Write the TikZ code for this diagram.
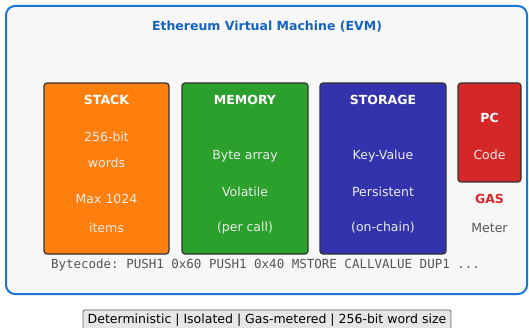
\documentclass[tikz,border=0pt]{standalone}
\usepackage{fontspec}
\setmainfont{DejaVu Sans}
\setmonofont{DejaVu Sans Mono}
\definecolor{frameblue}{HTML}{1976D2}
\definecolor{titleblue}{HTML}{1565C0}
\definecolor{panelbg}{HTML}{F7F7F7}
\definecolor{stackc}{HTML}{FF7F0E}
\definecolor{memc}{HTML}{2CA02C}
\definecolor{storc}{HTML}{3333AD}
\definecolor{pcc}{HTML}{D62728}
\definecolor{codegray}{HTML}{555555}
\definecolor{metergray}{HTML}{555555}
\definecolor{notebg}{HTML}{E6E6E6}
\begin{document}
\begin{tikzpicture}[x=1pt,y=-1pt,
  every node/.style={inner sep=0pt,outer sep=0pt,font=\fontsize{12.5}{15}\selectfont},
  unit/.style={draw=black!80,line width=1.2pt,rounded corners=3pt,anchor=north west},
  head/.style={text=white,font=\fontsize{12.5}{15}\selectfont\bfseries},
  body/.style={text=white!92!black},
  note/.style={draw=black!60,fill=notebg,rounded corners=2pt,line width=0.8pt,
    minimum width=368pt,minimum height=19.5pt}]
\useasboundingbox (0,0) rectangle (529,328);
\begin{scope}
\clip (0,0) rectangle (529,328);
% machine frame
\draw[frameblue,fill=panelbg,line width=2pt,rounded corners=9pt] (6,6) rectangle (527,294);
\node[text=titleblue,font=\fontsize{12.5}{15}\selectfont\bfseries] (title) at (267,27) {Ethereum Virtual Machine (EVM)};
% components
\node[unit,fill=stackc,minimum width=125pt,minimum height=171pt] (stack) at (44,83) {};
\node[unit,fill=memc,minimum width=126pt,minimum height=171pt] (mem) at (182,83) {};
\node[unit,fill=storc,minimum width=126pt,minimum height=171pt] (stor) at (320,83) {};
\node[unit,fill=pcc,minimum width=63pt,minimum height=99pt] (pc) at (458,83) {};
% stack
\node[head] (sth) at (106.5,100) {STACK};
\node[body] (st1) at (106.5,137) {256-bit};
\node[body] (st2) at (106.5,163) {words};
\node[body] (st3) at (106.5,199) {Max 1024};
\node[body] (st4) at (106.5,228) {items};
% memory
\node[head] (meh) at (245,100) {MEMORY};
\node[body] (me1) at (245,156) {Byte array};
\node[body] (me2) at (245,192) {Volatile};
\node[body] (me3) at (245,228) {(per call)};
% storage
\node[head] (soh) at (383,100) {STORAGE};
\node[body] (so1) at (383,156) {Key-Value};
\node[body] (so2) at (383,192) {Persistent};
\node[body] (so3) at (383,228) {(on-chain)};
% program counter and gas
\node[head] (pch) at (489.5,118) {PC};
\node[body] (pc1) at (489.5,155) {Code};
\node[text=pcc,font=\fontsize{12.5}{15}\selectfont\bfseries] (gas) at (489.5,199) {GAS};
\node[text=metergray] (meter) at (489.5,228) {Meter};
% bytecode line
\node[anchor=west,text=codegray,font=\fontsize{12.5}{15}\selectfont\ttfamily] (code) at (51,265) {Bytecode: PUSH1 0x60 PUSH1 0x40 MSTORE CALLVALUE DUP1 ...};
% properties
\node[note] (props) at (267,319.7) {Deterministic | Isolated | Gas-metered | 256-bit word size};
\end{scope}
\end{tikzpicture}
\end{document}
